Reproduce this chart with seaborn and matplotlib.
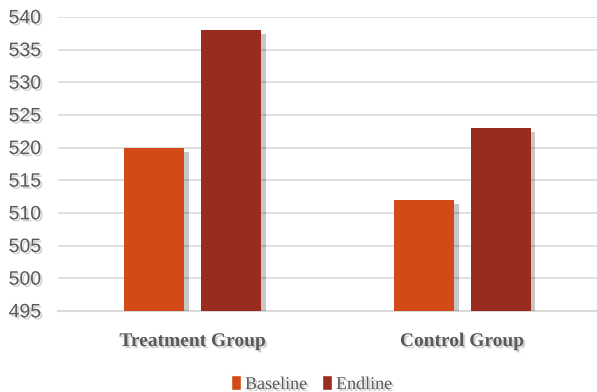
import matplotlib
matplotlib.use("Agg")
import matplotlib.pyplot as plt
import matplotlib.patheffects as pe
import seaborn as sns
import pandas as pd

groups = ["Treatment Group", "Control Group"]
rounds = ["Baseline", "Endline"]
baseline = [520, 512]
endline = [538, 523]
yticks = list(range(495, 541, 5))
colors = ["#D24A17", "#9A2B1F"]

df = pd.DataFrame({
    "group": groups * 2,
    "round": [rounds[0]] * 2 + [rounds[1]] * 2,
    "score": baseline + endline,
})

sns.set_style("white")
plt.rcParams["font.family"] = ["Liberation Sans Narrow", "Liberation Sans", "DejaVu Sans"]

fig = plt.figure(figsize=(5.97, 3.92), dpi=100)
ax = fig.add_axes([0.097, 0.207, 0.903, 0.75])

sns.barplot(data=df, x="group", y="score", hue="round", palette=colors, saturation=1,
            width=0.57, gap=0.22, ax=ax, legend=True, zorder=3)

shadow = [pe.SimplePatchShadow(offset=(3.5, -3), shadow_rgbFace="black", alpha=0.22), pe.Normal()]
txt_shadow = [pe.SimplePatchShadow(offset=(1.5, -1.5), shadow_rgbFace="black", alpha=0.18), pe.Normal()]

# bars start from the axis floor like the original
for bar in ax.patches:
    h = bar.get_height()
    if h == 0:
        continue
    bar.set_y(yticks[0])
    bar.set_height(h - yticks[0])
    bar.set_linewidth(0)
    bar.set_path_effects(shadow)

ax.set_ylim(yticks[0], yticks[-1])
ax.set_xlim(-0.5, 1.5)
ax.set_yticks(yticks)
ax.yaxis.grid(True, color="#D9D9D9", linewidth=1.2, zorder=0)
ax.set_axisbelow(True)
for s in ["top", "right", "left"]:
    ax.spines[s].set_visible(False)
ax.spines["bottom"].set_color("#D9D9D9")
ax.spines["bottom"].set_linewidth(1.5)

ax.tick_params(axis="y", length=0, pad=12, labelsize=14, labelcolor="#595959")
ax.tick_params(axis="x", length=0, pad=16, labelcolor="#595959")
for lab in ax.get_yticklabels():
    lab.set_path_effects(txt_shadow)
for lab in ax.get_xticklabels():
    lab.set_fontfamily(["Liberation Serif", "DejaVu Serif"])
    lab.set_fontweight("bold")
    lab.set_fontsize(14)
    lab.set_path_effects(txt_shadow)

ax.set_xlabel("")
ax.set_ylabel("")

leg = ax.legend(loc="lower center", bbox_to_anchor=(0.47, -0.335), ncol=2, frameon=False,
                handlelength=0.6, handleheight=0.9, handletextpad=0.2, columnspacing=0.8,
                prop={"family": ["Liberation Serif", "DejaVu Serif"], "size": 13})
for t in leg.get_texts():
    t.set_color("#595959")
    t.set_path_effects(txt_shadow)

fig.savefig("out.png", dpi=100)
